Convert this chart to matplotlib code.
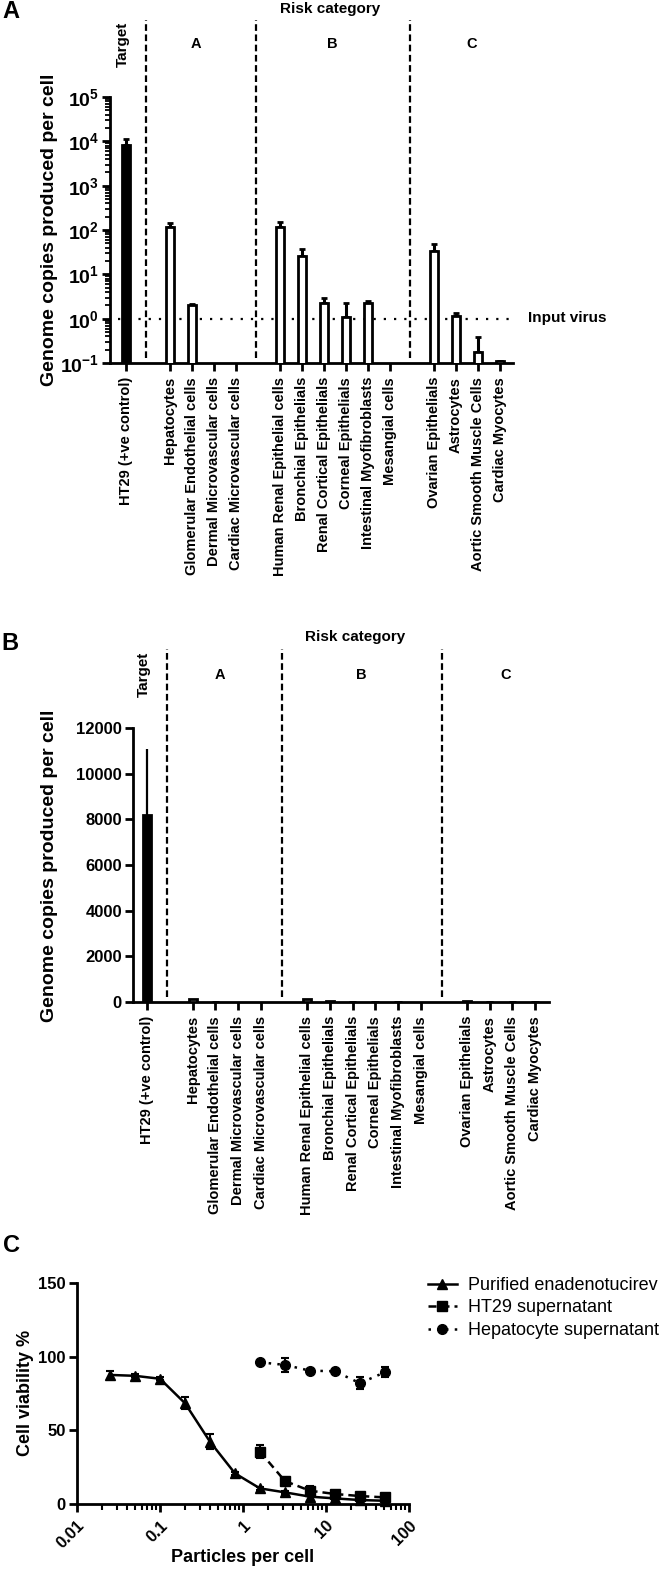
import matplotlib
matplotlib.use("Agg")
import matplotlib.pyplot as plt
import matplotlib.transforms as mtrans
from matplotlib.lines import Line2D
from matplotlib.ticker import LogLocator, FuncFormatter, NullFormatter, FixedLocator, NullLocator
import numpy as np

plt.rcParams['font.family'] = 'Liberation Sans'
plt.rcParams['mathtext.fontset'] = 'custom'
plt.rcParams['mathtext.rm'] = 'Liberation Sans:bold'
plt.rcParams['mathtext.bf'] = 'Liberation Sans:bold'
plt.rcParams['mathtext.it'] = 'Liberation Sans:bold'

# cell panel, grouped by risk category
cells = ["HT29 (+ve control)",
         "Hepatocytes", "Glomerular Endothelial cells", "Dermal Microvascular cells",
         "Cardiac Microvascular cells",
         "Human Renal Epithelial cells", "Bronchial Epithelials", "Renal Cortical Epithelials",
         "Corneal Epithelials", "Intestinal Myofibroblasts", "Mesangial cells",
         "Ovarian Epithelials", "Astrocytes", "Aortic Smooth Muscle Cells", "Cardiac Myocytes"]
group = ["Target", "A", "A", "A", "A", "B", "B", "B", "B", "B", "B", "C", "C", "C", "C"]
# genome copies per cell (nan = nothing detected) and upper error
copies = np.array([8200, 115, 2.06, np.nan, np.nan, 115, 26, 2.3, 1.1, 2.3, np.nan,
                   34, 1.17, 0.18, 0.11])
copies_err = np.array([2900, 30, 0.1, np.nan, np.nan, 35, 11, 0.7, 1.1, 0.2, np.nan,
                       14, 0.18, 0.21, 0.0])

# panel C: viability vs particles per cell
dose_pur = [0.025, 0.05, 0.1, 0.2, 0.4, 0.8, 1.6, 3.2, 6.4, 12.8, 25.6, 51.2]
via_pur = [87.6, 87.0, 85.0, 68.4, 42.3, 20.8, 10.6, 7.9, 5.0, 3.8, 2.7, 2.2]
err_pur = [3.0, 1.0, 1.0, 4.0, 5.0, 1.0, 1.0, 1.0, 3.0, 2.0, 2.0, 1.0]
dose_sup = [1.6, 3.2, 6.4, 12.8, 25.6, 51.2]
via_ht29 = [35.5, 15.6, 9.0, 6.8, 5.4, 4.5]
err_ht29 = [4.5, 1.0, 3.0, 2.0, 1.5, 1.5]
via_hep = [96.2, 94.4, 90.5, 90.1, 82.0, 89.4]
err_hep = [1.0, 4.5, 1.0, 1.0, 4.0, 3.4]

W, H = 664, 1570
fig = plt.figure(figsize=(W / 100, H / 100), dpi=100)


def box(l, t, r, b):
    return [l / W, 1 - b / H, (r - l) / W, (b - t) / H]


def ftext(px, py, s, **kw):
    fig.text(px / W, 1 - py / H, s, **kw)


# x positions: one step inside a group, two between groups
pos = []
p = 0
for i, g in enumerate(group):
    if i > 0:
        p += 1 if g == group[i - 1] else 2
    pos.append(p)
pos = np.array(pos, float)
bounds = [pos[i] - 1.1 for i in range(1, len(group)) if group[i] != group[i - 1]]
label_x = {"A": 3.2, "B": 9.4, "C": 15.7}
ok = ~np.isnan(copies)
face = np.array(['black' if g == "Target" else 'white' for g in group])


def bar_panel(ax, log, top_px, axis_top_px, axis_bot_px, risk_xy, target_y, abc_y):
    ax.bar(pos[ok], copies[ok], width=0.34, color=face[ok], edgecolor='black',
           linewidth=2, zorder=3)
    if log:
        ax.errorbar(pos[ok], copies[ok], yerr=[np.zeros(ok.sum()), copies_err[ok]],
                    fmt='none', ecolor='black', elinewidth=2.2, capsize=2, capthick=2, zorder=2)
    else:
        ax.errorbar(pos[ok], copies[ok], yerr=[np.zeros(ok.sum()), copies_err[ok]],
                    fmt='none', ecolor='black', elinewidth=1.6, capsize=0, zorder=2)
    hgt = axis_bot_px - axis_top_px
    for b in bounds:
        ax.axvline(b, ymin=5 / hgt, ymax=(axis_bot_px - top_px) / hgt, color='black',
                   lw=1.6, ls=(0, (3, 1.6)), clip_on=False)
    for s in ('top', 'right'):
        ax.spines[s].set_visible(False)
    for s in ('left', 'bottom'):
        ax.spines[s].set_linewidth(2)
    ax.set_xticks(pos)
    ax.set_xticklabels(cells, rotation=90, fontsize=10.5, fontweight='bold')
    ax.tick_params(axis='x', length=6, width=2, pad=4)
    ax.tick_params(axis='y', which='major', length=6, width=2, pad=2)
    tr = mtrans.blended_transform_factory(ax.transData, fig.transFigure)
    for g, x in label_x.items():
        ax.text(x, 1 - abc_y / H, g, transform=tr, ha='center', va='center',
                fontsize=10.5, fontweight='bold')
    ax.text(-0.15, 1 - target_y / H, "Target", transform=tr, rotation=90,
            ha='center', va='center', fontsize=11, fontweight='bold')
    ftext(risk_xy[0], risk_xy[1], "Risk category", ha='center', va='center',
          fontsize=11, fontweight='bold')


# ---- panel A (log scale)
axA = fig.add_axes(box(110, 97, 513, 363))
axA.set_yscale('log')
axA.set_ylim(0.1, 1e5)
axA.set_xlim(-0.73, 17.6)
bar_panel(axA, True, 20, 97, 363, (330, 9), 44, 44)
axA.yaxis.set_major_locator(LogLocator(base=10, numticks=10))
axA.yaxis.set_minor_locator(LogLocator(base=10, subs=np.arange(2, 10), numticks=20))
axA.yaxis.set_minor_formatter(NullFormatter())
axA.yaxis.set_major_formatter(FuncFormatter(lambda v, _: r"$10^{%d}$" % round(np.log10(v))))
axA.tick_params(axis='y', which='major', labelsize=14)
axA.tick_params(axis='y', which='minor', length=3.5, width=1.3)
axA.plot([-0.36, 17.6], [1, 1], color='black', lw=1.6, ls=(0, (1, 3.6)), clip_on=False)
ftext(528, 318, "Input virus", ha='left', va='center', fontsize=11, fontweight='bold')
ftext(11, 12, "A", ha='center', va='center', fontsize=17, fontweight='bold')
ftext(50, 230, "Genome copies produced per cell", rotation=90, ha='center', va='center',
      fontsize=14, fontweight='bold')

# ---- panel B (linear scale)
axB = fig.add_axes(box(133, 728, 549, 1002))
axB.set_ylim(0, 12000)
axB.set_xlim(-0.61, 17.6)
bar_panel(axB, False, 649, 728, 1002, (355, 637), 674, 675)
axB.set_yticks(np.arange(0, 12001, 2000))
axB.tick_params(axis='y', labelsize=12)
for t in axB.get_yticklabels():
    t.set_fontweight('bold')
ftext(10, 643, "B", ha='center', va='center', fontsize=17, fontweight='bold')
ftext(50, 866, "Genome copies produced per cell", rotation=90, ha='center', va='center',
      fontsize=14, fontweight='bold')

# ---- panel C (viability)
axC = fig.add_axes(box(77, 1283, 409, 1504))
axC.set_xscale('log')
axC.set_xlim(0.01, 100)
axC.set_ylim(0, 150)
axC.errorbar(dose_pur, via_pur, yerr=err_pur, color='black', marker='^', ms=7.5, lw=1.8,
             ls='-', capsize=3, elinewidth=1.5, capthick=1.5, clip_on=False, zorder=3)
axC.errorbar(dose_sup, via_ht29, yerr=err_ht29, color='black', marker='s', ms=6.5, lw=1.8,
             ls=(0, (3.2, 2)), capsize=3, elinewidth=1.5, capthick=1.5, clip_on=False, zorder=3)
axC.errorbar(dose_sup, via_hep, yerr=err_hep, color='black', marker='o', ms=7, lw=1.8,
             ls=(0, (1, 2.5)), capsize=3, elinewidth=1.5, capthick=1.5, clip_on=False, zorder=3)
for s in ('top', 'right'):
    axC.spines[s].set_visible(False)
for s in ('left', 'bottom'):
    axC.spines[s].set_linewidth(2)
axC.set_yticks([0, 50, 100, 150])
axC.xaxis.set_major_locator(FixedLocator([0.01, 0.1, 1, 10, 100]))
axC.xaxis.set_minor_locator(LogLocator(base=10, subs=np.arange(2, 10), numticks=20))
axC.xaxis.set_minor_formatter(NullFormatter())
axC.set_xticklabels(["0.01", "0.1", "1", "10", "100"], rotation=45, ha='right',
                    rotation_mode='anchor', fontsize=12, fontweight='bold')
axC.tick_params(axis='x', which='major', length=6, width=2, pad=4)
axC.tick_params(axis='x', which='minor', length=4, width=1.5)
axC.tick_params(axis='y', length=6, width=2, labelsize=12, pad=2)
for t in axC.get_yticklabels():
    t.set_fontweight('bold')
ftext(11, 1245, "C", ha='center', va='center', fontsize=17, fontweight='bold')
ftext(25, 1393, "Cell viability %", rotation=90, ha='center', va='center',
      fontsize=13, fontweight='bold')
ftext(243, 1558, "Particles per cell", ha='center', va='center', fontsize=13, fontweight='bold')

handles = [Line2D([], [], color='black', marker='^', ms=7.5, lw=1.8, ls='-'),
           Line2D([], [], color='black', marker='s', ms=6.5, lw=1.8, ls=(0, (3.2, 2))),
           Line2D([], [], color='black', marker='o', ms=7, lw=1.8, ls=(0, (1, 2.5)))]
fig.legend(handles, ["Purified enadenotucirev", "HT29 supernatant", "Hepatocyte supernatant"],
           loc='upper left', bbox_to_anchor=(428 / W, 1 - 1277 / H), frameon=False,
           fontsize=13, handlelength=1.6, handletextpad=0.6, labelspacing=0.3,
           borderpad=0, borderaxespad=0)

fig.savefig("out.png", dpi=100)
